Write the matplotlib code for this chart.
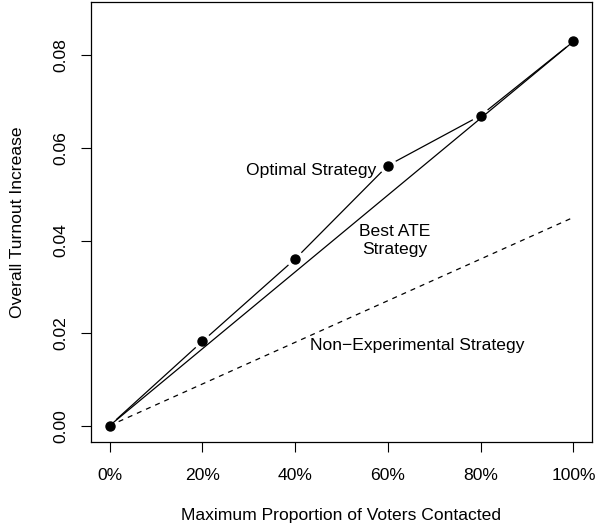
import numpy as np
import matplotlib
matplotlib.use("Agg")
import matplotlib.pyplot as plt

plt.rcParams['font.family'] = ['Liberation Sans', 'DejaVu Sans']

# proportion of voters contacted and turnout gains
prop = [0.0, 0.2, 0.4, 0.6, 0.8, 1.0]
optimal = [0.0, 0.0182, 0.0360, 0.0562, 0.0670, 0.0830]
best_ate = [0.0, 0.0830]
non_exp = [0.0, 0.0450]
xticks = [0.0, 0.2, 0.4, 0.6, 0.8, 1.0]
xticklabels = ["0%", "20%", "40%", "60%", "80%", "100%"]
yticks = [0.00, 0.02, 0.04, 0.06, 0.08]

fs = 12.6

fig = plt.figure(figsize=(5.97, 5.29), dpi=100)
ax = fig.add_axes([0.1524, 0.1645, 0.8392, 0.8317])
ax.set_xlim(-0.04, 1.04)
ax.set_ylim(-0.00352, 0.09152)

# straight reference lines
ax.plot([prop[0], prop[-1]], best_ate, color='black', lw=0.9)
ax.plot([prop[0], prop[-1]], non_exp, color='black', lw=0.9, ls=(0, (4, 4)))

# optimal strategy: points joined by lines that stop short of each point
ax.plot(prop, optimal, 'o', color='black', ms=6.5)
fig.canvas.draw()
pts = ax.transData.transform(np.column_stack([prop, optimal]))
gap = 9.5
for (x0, y0), (x1, y1) in zip(pts[:-1], pts[1:]):
    d = np.hypot(x1 - x0, y1 - y0)
    if d <= 2 * gap:
        continue
    ux, uy = (x1 - x0) / d, (y1 - y0) / d
    seg = np.array([[x0 + ux * gap, y0 + uy * gap], [x1 - ux * gap, y1 - uy * gap]])
    seg = ax.transData.inverted().transform(seg)
    ax.plot(seg[:, 0], seg[:, 1], color='black', lw=0.9)

ax.text(0.434, 0.0551, "Optimal Strategy", ha='center', va='center', fontsize=fs)
ax.text(0.614, 0.0400, "Best ATE\nStrategy", ha='center', va='center', fontsize=fs,
        linespacing=1.25)
ax.text(0.663, 0.0173, "Non\u2212Experimental Strategy", ha='center', va='center',
        fontsize=fs)

ax.set_xticks(xticks)
ax.set_xticklabels(xticklabels)
ax.set_yticks(yticks)
ax.set_yticklabels(["%.2f" % v for v in yticks], rotation=90, va='center')
ax.tick_params(direction='out', length=7.5, width=0.8, labelsize=fs, pad=11)
ax.tick_params(axis='y', pad=9)
for s in ax.spines.values():
    s.set_linewidth(0.9)

ax.set_xlabel("Maximum Proportion of Voters Contacted", fontsize=fs, labelpad=18)
ax.set_ylabel("Overall Turnout Increase", fontsize=fs, labelpad=20)

fig.savefig("out.png", dpi=100)
